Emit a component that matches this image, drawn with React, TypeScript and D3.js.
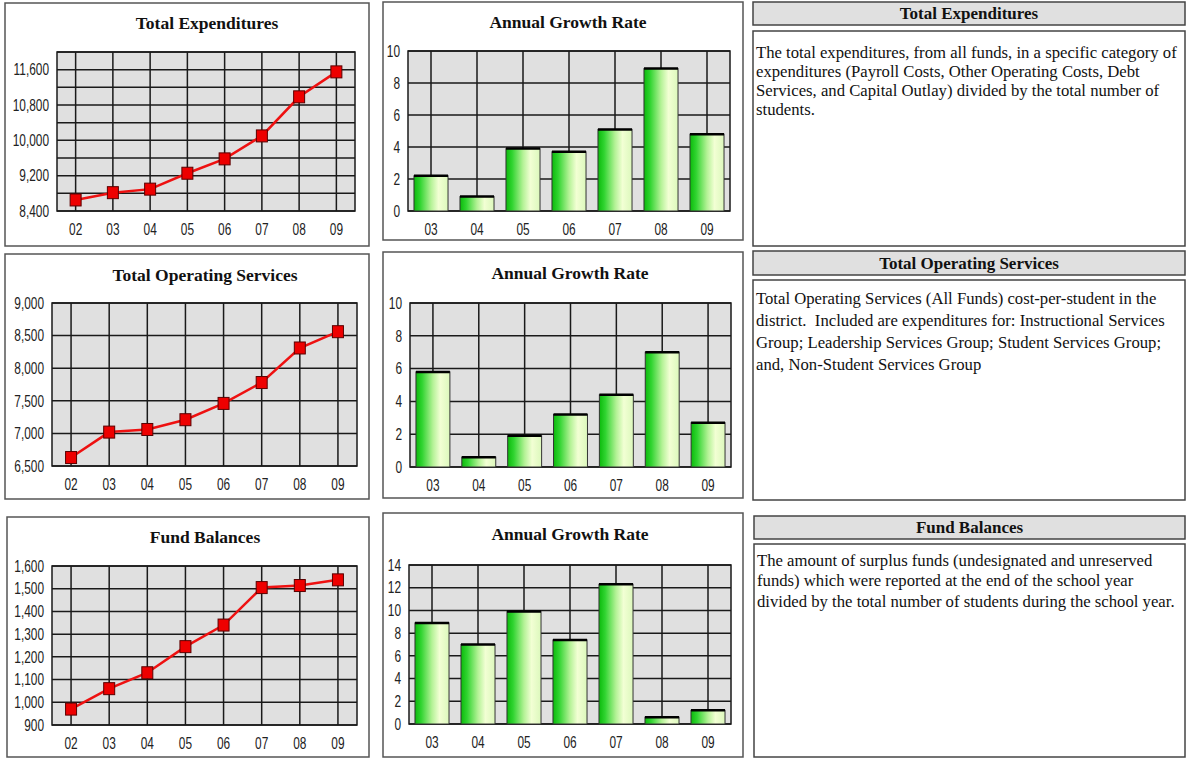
import React from 'react';
import * as d3 from 'd3';

// ---- data ----
const years = ['02', '03', '04', '05', '06', '07', '08', '09'];
const growthYears = ['03', '04', '05', '06', '07', '08', '09'];

const expenditures = [8650, 8815, 8895, 9255, 9580, 10100, 10985, 11550];
const expGrowth = [2.2, 0.9, 3.9, 3.7, 5.1, 8.9, 4.8];
const expTicks = [8400, 9200, 10000, 10800, 11600];

const operating = [6630, 7020, 7060, 7210, 7460, 7780, 8310, 8560];
const opGrowth = [5.8, 0.6, 1.9, 3.2, 4.4, 7.0, 2.7];
const opTicks = [6500, 7000, 7500, 8000, 8500, 9000];

const fundBalances = [970, 1060, 1130, 1245, 1340, 1505, 1514, 1539];
const fundGrowth = [8.9, 7.0, 9.9, 7.4, 12.3, 0.6, 1.2];
const fundTicks = [900, 1000, 1100, 1200, 1300, 1400, 1500, 1600];

const growthTicks10 = [0, 2, 4, 6, 8, 10];
const growthTicks14 = [0, 2, 4, 6, 8, 10, 12, 14];

const expText = [
  'The total expenditures, from all funds, in a specific category of',
  'expenditures (Payroll Costs, Other Operating Costs, Debt',
  'Services, and Capital Outlay) divided by the total number of',
  'students.',
];
const opText = [
  'Total Operating Services (All Funds) cost-per-student in the',
  'district.  Included are expenditures for: Instructional Services',
  'Group; Leadership Services Group; Student Services Group;',
  'and, Non-Student Services Group',
];
const fundText = [
  'The amount of surplus funds (undesignated and unreserved',
  'funds) which were reported at the end of the school year',
  'divided by the total number of students during the school year.',
];

const SANS = "'Liberation Sans', Arial, sans-serif";
const SERIF = "'Liberation Serif', 'Times New Roman', serif";
const fmt = d3.format(',');

type Box = { x: number; y: number; w: number; h: number };

// condensed axis label: regular sans squeezed horizontally
function Narrow({ x, y, anchor, children }: any) {
  return (
    <text transform={`translate(${x},${y}) scale(0.72,1)`} textAnchor={anchor} dominantBaseline="central"
      fontFamily={SANS} fontSize={16.5} fill="#222">{children}</text>
  );
}

function Frame({ box, title, tx, ty }: { box: Box; title: string; tx: number; ty: number }) {
  return (
    <g>
      <rect x={box.x} y={box.y} width={box.w} height={box.h} fill="#fff" stroke="#555" strokeWidth={1.5} />
      <text x={tx} y={ty} textAnchor="middle" dominantBaseline="central" fontFamily={SERIF}
        fontWeight="bold" fontSize={17.5} fill="#111">{title}</text>
    </g>
  );
}

function LinePanel({ box, plot, title, tx, ty, values, domain, gridStep, ticks }: any) {
  const x = d3.scaleBand().domain(years).range([plot.x0, plot.x1]);
  const y = d3.scaleLinear().domain(domain).range([plot.y1, plot.y0]);
  const cx = (d: string) => (x(d) as number) + x.bandwidth() / 2;
  const grid = d3.range(domain[0], domain[1] + 1, gridStep);
  const line = d3.line<number>().x((_, i) => cx(years[i])).y(v => y(v));
  return (
    <g>
      <Frame box={box} title={title} tx={tx} ty={ty} />
      <rect x={plot.x0} y={plot.y0} width={plot.x1 - plot.x0} height={plot.y1 - plot.y0} fill="#e0e0e0" />
      {grid.map(g => (
        <line key={g} x1={plot.x0} x2={plot.x1} y1={y(g)} y2={y(g)} stroke="#1a1a1a" strokeWidth={1.5} />
      ))}
      {years.map(d => (
        <line key={d} x1={cx(d)} x2={cx(d)} y1={plot.y0} y2={plot.y1} stroke="#1a1a1a" strokeWidth={1.5} />
      ))}
      <rect x={plot.x0} y={plot.y0} width={plot.x1 - plot.x0} height={plot.y1 - plot.y0} fill="none" stroke="#1a1a1a" strokeWidth={1.5} />
      {ticks.map((t: number) => (
        <Narrow key={t} x={plot.x0 - 8} y={y(t)} anchor="end">{fmt(t)}</Narrow>
      ))}
      {years.map(d => (
        <Narrow key={d} x={cx(d)} y={plot.y1 + 18} anchor="middle">{d}</Narrow>
      ))}
      <path d={line(values) as string} fill="none" stroke="#ee1111" strokeWidth={2.5} />
      {values.map((v: number, i: number) => (
        <rect key={i} x={cx(years[i]) - 5.5} y={y(v) - 6} width={11} height={12}
          fill="#ee0000" stroke="#5a0000" strokeWidth={1} />
      ))}
    </g>
  );
}

function BarPanel({ box, plot, title, tx, ty, values, max, ticks, id }: any) {
  const x = d3.scaleBand().domain(growthYears).range([plot.x0, plot.x1]);
  const y = d3.scaleLinear().domain([0, max]).range([plot.y1, plot.y0]);
  const cx = (d: string) => (x(d) as number) + x.bandwidth() / 2;
  const bw = x.bandwidth() * 0.74;
  return (
    <g>
      <defs>
        <linearGradient id={id} x1="0" x2="1" y1="0" y2="0">
          <stop offset="0%" stopColor="#0cba0c" />
          <stop offset="18%" stopColor="#30d430" />
          <stop offset="50%" stopColor="#b4f296" />
          <stop offset="72%" stopColor="#f2ffd4" />
          <stop offset="100%" stopColor="#dcf8bc" />
        </linearGradient>
      </defs>
      <Frame box={box} title={title} tx={tx} ty={ty} />
      <rect x={plot.x0} y={plot.y0} width={plot.x1 - plot.x0} height={plot.y1 - plot.y0} fill="#e0e0e0" />
      {ticks.map((g: number) => (
        <line key={g} x1={plot.x0} x2={plot.x1} y1={y(g)} y2={y(g)} stroke="#1a1a1a" strokeWidth={1.5} />
      ))}
      {growthYears.map(d => (
        <line key={d} x1={cx(d)} x2={cx(d)} y1={plot.y0} y2={plot.y1} stroke="#1a1a1a" strokeWidth={1.5} />
      ))}
      <rect x={plot.x0} y={plot.y0} width={plot.x1 - plot.x0} height={plot.y1 - plot.y0} fill="none" stroke="#1a1a1a" strokeWidth={1.5} />
      {values.map((v: number, i: number) => {
        const d = growthYears[i];
        return (
          <g key={d}>
            <rect x={cx(d) - bw / 2} y={y(v)} width={bw} height={y(0) - y(v)}
              fill={`url(#${id})`} stroke="#333" strokeWidth={1} />
            <line x1={cx(d) - bw / 2} x2={cx(d) + bw / 2} y1={y(v)} y2={y(v)} stroke="#000" strokeWidth={2.5} />
          </g>
        );
      })}
      {ticks.map((t: number) => (
        <Narrow key={t} x={plot.x0 - 8} y={y(t)} anchor="end">{t}</Narrow>
      ))}
      {growthYears.map(d => (
        <Narrow key={d} x={cx(d)} y={plot.y1 + 18} anchor="middle">{d}</Narrow>
      ))}
    </g>
  );
}

function TextPanel({ head, body, title, lines, firstY, lineH }: any) {
  return (
    <g>
      <rect x={head.x} y={head.y} width={head.w} height={head.h} fill="#e0e0e0" stroke="#444" strokeWidth={1.5} />
      <text x={head.x + head.w / 2} y={head.y + head.h / 2} textAnchor="middle" dominantBaseline="central"
        fontFamily={SERIF} fontWeight="bold" fontSize={17} fill="#111">{title}</text>
      <rect x={body.x} y={body.y} width={body.w} height={body.h} fill="#fff" stroke="#444" strokeWidth={1.5} />
      {lines.map((l: string, i: number) => (
        <text key={i} x={body.x + 3} y={firstY + i * lineH} dominantBaseline="central"
          fontFamily={SERIF} fontSize={16.7} fill="#111" style={{ whiteSpace: 'pre' }}>{l}</text>
      ))}
    </g>
  );
}

export default function App() {
  return (
    <div style={{ position: 'absolute', left: 0, top: 0 }}>
      <svg width={1186} height={759} style={{ display: 'block', background: '#fff' }}>
        {/* row 1 */}
        <LinePanel box={{ x: 5, y: 3, w: 364, h: 243 }} plot={{ x0: 57, y0: 52, x1: 355, y1: 211 }}
          title="Total Expenditures" tx={207} ty={23} values={expenditures}
          domain={[8400, 12000]} gridStep={400} ticks={expTicks} />
        <BarPanel id="g1" box={{ x: 383, y: 2, w: 360, h: 238 }} plot={{ x0: 408, y0: 51, x1: 730, y1: 211 }}
          title="Annual Growth Rate" tx={568} ty={22} values={expGrowth} max={10} ticks={growthTicks10} />
        <TextPanel head={{ x: 753, y: 2, w: 432, h: 23 }} body={{ x: 753, y: 31, w: 432, h: 215 }}
          title="Total Expenditures" lines={expText} firstY={52} lineH={19.3} />

        {/* row 2 */}
        <LinePanel box={{ x: 5, y: 254, w: 364, h: 245 }} plot={{ x0: 52, y0: 303, x1: 357, y1: 466 }}
          title="Total Operating Services" tx={205} ty={275} values={operating}
          domain={[6500, 9000]} gridStep={500} ticks={opTicks} />
        <BarPanel id="g2" box={{ x: 383, y: 252, w: 360, h: 246 }} plot={{ x0: 410, y0: 303, x1: 731, y1: 467 }}
          title="Annual Growth Rate" tx={570} ty={273} values={opGrowth} max={10} ticks={growthTicks10} />
        <TextPanel head={{ x: 753, y: 251, w: 432, h: 24 }} body={{ x: 753, y: 280, w: 432, h: 220 }}
          title="Total Operating Services" lines={opText} firstY={298} lineH={22} />

        {/* row 3 */}
        <LinePanel box={{ x: 7, y: 517, w: 362, h: 240 }} plot={{ x0: 52, y0: 566, x1: 357, y1: 725 }}
          title="Fund Balances" tx={205} ty={537} values={fundBalances}
          domain={[900, 1600]} gridStep={100} ticks={fundTicks} />
        <BarPanel id="g3" box={{ x: 383, y: 513, w: 360, h: 244 }} plot={{ x0: 409, y0: 565, x1: 731, y1: 724 }}
          title="Annual Growth Rate" tx={570} ty={534} values={fundGrowth} max={14} ticks={growthTicks14} />
        <TextPanel head={{ x: 754, y: 516, w: 431, h: 23 }} body={{ x: 754, y: 544, w: 431, h: 213 }}
          title="Fund Balances" lines={fundText} firstY={560} lineH={20.5} />
      </svg>
    </div>
  );
}
